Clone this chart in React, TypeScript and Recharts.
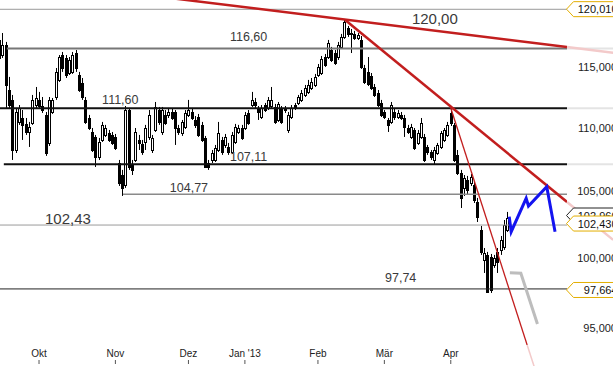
import React from 'react';
import {
  ComposedChart,
  Bar,
  Line,
  XAxis,
  YAxis,
  ReferenceLine,
  ReferenceDot
} from 'recharts';

// daily candles, mid Sep 2012 .. late Apr 2013 (trading day index = position)
const opens = [
  117.33, 116.04, 116.9, 113.1, 112.28, 108.23, 110.48, 110.8, 110.32, 109.67, 110.4, 111.86,
  112.28, 111.78, 111.05, 108.79, 111.29, 112.52, 113.94, 116.04, 115.79, 114.52, 114.61, 116.21,
  114.35, 113.68, 112.28, 110.8, 109.67, 109.27, 107.68, 109.03, 109.43, 109.59, 109.43, 109.27,
  107.2, 106.26, 105.49, 111.45, 107.05, 107.44, 109.03, 108.71, 108.87, 109.27, 108.23, 109.83,
  111.45, 109.67, 111.05, 111.05, 111.29, 111.29, 109.99, 109.59, 110.07, 111.05, 111.29, 110.64,
  110.88, 110.24, 109.19, 107.2, 107.44, 107.44, 108.23, 109.03, 108.63, 108.47, 108.07, 108.87,
  109.67, 109.99, 109.99, 111.21, 111.86, 112.11, 111.62, 110.88, 111.86, 111.62, 111.78, 111.7,
  110.64, 111.62, 111.5, 109.83, 110.88, 111.86, 112.03, 112.28, 112.69, 112.94, 113.27, 113.52,
  114.35, 114.52, 115.87, 115.87, 116.47, 116.21, 115.87, 116.73, 117.59, 118.36, 117.93, 117.85,
  117.5, 117.33, 114.94, 114.61, 114.27, 113.35, 112.85, 112.03, 111.29, 110.64, 110.48, 111.29,
  110.88, 111.05, 110.8, 109.99, 109.27, 109.83, 108.79, 109.27, 109.27, 108.47, 108.07, 107.44,
  107.99, 108.47, 109.03, 109.43, 111.21, 110.24, 107.84, 106.42, 105.25, 105.88, 105.64, 105.49,
  104.18, 102.06, 99.84, 100.21, 100.06, 99.47, 100.43, 100.58, 100.8, 102.06
];
const highs = [
  117.76, 117.93, 117.16, 114.19, 112.69, 111.62, 111.86, 111.45, 110.8, 110.48, 112.69, 113.35,
  112.94, 112.52, 111.29, 112.52, 112.44, 114.94, 116.04, 116.3, 116.04, 115.87, 116.3, 116.47,
  114.61, 114.1, 112.52, 111.05, 109.99, 109.43, 109.19, 110.48, 110.24, 109.83, 109.67, 109.51,
  107.44, 106.66, 111.78, 111.62, 107.44, 109.99, 109.43, 109.03, 110.24, 111.45, 109.43, 112.11,
  111.7, 111.7, 111.45, 111.62, 111.54, 111.45, 110.24, 110.64, 111.45, 112.28, 111.62, 110.96,
  111.13, 110.48, 109.35, 107.44, 108.23, 108.63, 110.48, 109.27, 109.51, 108.79, 109.67, 110.32,
  110.24, 110.24, 111.29, 111.45, 112.94, 112.44, 111.78, 111.86, 112.03, 112.52, 113.35, 111.95,
  112.11, 111.78, 111.78, 111.29, 111.86, 112.03, 112.69, 113.1, 113.52, 113.94, 114.1, 114.44,
  115.28, 115.96, 116.13, 117.33, 116.73, 116.47, 117.16, 117.85, 119.15, 118.54, 118.28, 118.11,
  117.93, 117.67, 115.2, 115.87, 114.52, 113.6, 113.1, 112.28, 111.45, 110.8, 112.11, 111.54,
  111.45, 111.29, 111.05, 110.24, 110.32, 109.99, 109.83, 110.8, 109.51, 108.63, 108.23, 108.47,
  108.79, 109.75, 109.99, 110.48, 111.7, 110.4, 108.23, 106.66, 106.26, 106.19, 106.34, 105.72,
  104.49, 102.36, 100.72, 100.43, 100.28, 100.21, 100.72, 101.61, 102.81, 103.42
];
const lows = [
  115.62, 115.79, 111.62, 111.62, 107.44, 107.99, 110.24, 109.03, 109.43, 108.47, 110.24, 111.62,
  111.62, 111.21, 107.76, 108.55, 111.13, 112.28, 113.77, 114.61, 114.1, 114.35, 114.44, 114.61,
  112.94, 112.28, 110.32, 109.83, 108.07, 106.89, 107.44, 108.87, 109.27, 108.87, 108.63, 108.23,
  105.41, 104.64, 105.26, 106.66, 106.26, 107.28, 108.23, 107.84, 108.23, 109.03, 107.99, 109.67,
  110.24, 109.43, 110.24, 110.8, 110.64, 108.63, 109.43, 109.35, 109.91, 110.88, 110.64, 109.99,
  109.27, 108.87, 106.81, 106.66, 107.2, 107.28, 108.07, 107.84, 108.39, 107.84, 107.91, 108.71,
  109.51, 109.03, 109.83, 110.24, 111.7, 111.62, 110.64, 110.72, 111.29, 111.45, 111.62, 110.32,
  110.48, 110.32, 111.21, 109.59, 110.72, 111.45, 111.86, 112.11, 112.52, 112.77, 113.1, 113.35,
  114.19, 114.35, 115.03, 115.7, 115.45, 115.2, 115.62, 116.56, 117.42, 117.59, 116.21, 117.33,
  117.33, 114.86, 113.6, 113.43, 113.1, 112.52, 111.7, 110.88, 110.72, 109.67, 110.32, 110.64,
  110.72, 110.64, 109.27, 109.51, 109.11, 108.23, 108.63, 109.11, 107.28, 107.84, 107.44, 107.05,
  107.84, 108.31, 108.87, 109.27, 110.15, 107.28, 106.26, 103.72, 104.64, 104.72, 105.41, 104.1,
  102.66, 100.21, 98.89, 97.45, 97.45, 99.26, 98.89, 100.21, 100.58, 101.91
];
const closes = [
  115.79, 116.9, 113.52, 111.86, 108.23, 111.29, 111.62, 110.24, 109.67, 110.07, 112.28, 112.44,
  111.78, 111.45, 107.99, 112.28, 112.28, 114.61, 115.87, 114.94, 114.35, 115.62, 116.04, 114.94,
  113.1, 112.52, 110.48, 109.99, 108.23, 107.68, 108.87, 110.24, 109.99, 109.03, 108.79, 108.39,
  105.64, 105.26, 111.45, 106.89, 106.66, 109.67, 108.79, 108.07, 109.99, 111.05, 109.19, 111.7,
  110.48, 111.45, 110.4, 111.29, 110.8, 109.99, 109.67, 110.48, 111.21, 111.45, 110.8, 110.24,
  109.43, 109.03, 106.89, 106.89, 107.99, 108.39, 109.59, 108.07, 109.27, 108.07, 109.43, 110.07,
  109.99, 109.19, 111.05, 110.4, 112.28, 111.86, 111.29, 111.62, 111.45, 112.28, 112.28, 110.48,
  111.95, 110.48, 111.41, 111.05, 111.62, 111.62, 112.52, 112.85, 113.27, 113.52, 113.77, 114.19,
  115.03, 115.7, 115.2, 117.07, 115.62, 115.37, 116.9, 117.59, 118.89, 117.85, 117.85, 117.5,
  117.76, 115.03, 113.77, 113.6, 113.27, 112.69, 111.86, 111.05, 110.88, 110.24, 111.86, 110.88,
  111.21, 110.8, 110.07, 109.67, 110.07, 108.39, 109.59, 110.4, 107.44, 108.07, 107.68, 108.23,
  108.63, 109.59, 109.83, 110.24, 110.4, 107.44, 106.42, 104.49, 106.03, 105.1, 106.11, 104.33,
  103.04, 100.43, 100.35, 97.52, 97.67, 99.99, 99.69, 101.32, 102.44, 102.96
];

const monthTicks = [12, 35, 57, 74, 96, 116, 136];
const monthLabels = ['Okt', 'Nov', 'Dez', "Jan '13", 'Feb', 'Mär', 'Apr'];
const priceTicks = [95, 100, 105, 110, 115];

// horizontal levels
const levelValues = [120.0, 116.6, 111.6, 107.11, 104.77, 102.43, 97.74];
const levelTexts = ['120,00', '116,60', '111,60', '107,11', '104,77', '102,43', '97,74'];
const levelFrom = [0.25, 2.3, 0.25, 1.4, 37.3, 0.25, 0.25];
const levelTextAt = [124.3, 69.5, 31, 69.5, 51.4, 13.8, 116.2];

// trend lines: [x1, y1, x2, y2] in (day index, price)
const trendA = [50, 121.05, 171, 116.73];
const trendAExt = [171, 116.73, 184.9, 116.24];
const trendB = [104.2, 119.06, 171, 104.18];
const trendBExt = [171, 104.18, 184.9, 101.32];
const trendC = [136, 111.62, 159, 93.8];
const trendCExt = [159, 93.8, 161.4, 92.13];

// drawn forecast paths
const blueX = [153.6, 154.2, 158.7, 159.4, 164.9, 167.4];
const blueY = [103.06, 101.93, 104.46, 103.87, 105.36, 101.93];
const grayX = [153.8, 157.1, 162.1];
const grayY = [98.91, 98.87, 95.26];

// price tags on the right axis
const tagValues = [120.01, 102.96, 102.43, 97.664];
const tagTexts = ['120,010', '102,960', '102,430', '97,664'];
const tagColors = ['#e3ae00', '#222222', '#e3ae00', '#e3ae00'];

const W = 613;
const H = 366;
const FONT = '"Liberation Sans", Arial, sans-serif';

const candles = opens.map((o, i) => ({
  i,
  open: o,
  high: highs[i],
  low: lows[i],
  close: closes[i]
}));
const blueData = blueX.map((x, k) => ({ i: x, v: blueY[k] }));
const grayData = grayX.map((x, k) => ({ i: x, v: grayY[k] }));

const seg = (s: number[]) => [
  { x: s[0], y: s[1] },
  { x: s[2], y: s[3] }
];

const Candle = (props: any) => {
  const { x, y, width, height, payload } = props;
  if (!payload || x == null) return null;
  const top = Math.min(y, y + height);
  const bottom = Math.max(y, y + height);
  const lh = Math.log(payload.high);
  const ll = Math.log(payload.low);
  // log scale -> interpolate in log space between high and low
  const toY = (v: number) => (lh === ll ? top : top + ((bottom - top) * (lh - Math.log(v))) / (lh - ll));
  const yo = toY(payload.open);
  const yc = toY(payload.close);
  const up = payload.close >= payload.open;
  const px = Math.round(x + width / 2);
  const bt = Math.round(Math.min(yo, yc));
  const bh = Math.max(1, Math.round(Math.abs(yc - yo)));
  return (
    <g>
      <line x1={px + 0.5} x2={px + 0.5} y1={top} y2={bottom} stroke="#000" strokeWidth={1} />
      <rect
        x={px - 0.5}
        y={bt + 0.5}
        width={2}
        height={bh}
        fill={up ? '#fff' : '#000'}
        stroke="#000"
        strokeWidth={1}
      />
    </g>
  );
};

const MonthTick = ({ x, y, payload }: any) => {
  const k = monthTicks.indexOf(payload.value);
  return (
    <g>
      <text x={x} y={y + 12} textAnchor="middle" fontSize={10} fill="#222" fontFamily={FONT}>
        {monthLabels[k]}
      </text>
      <line x1={x} x2={x} y1={y + 15} y2={y + 19} stroke="#555" />
    </g>
  );
};

const PriceTick = ({ y, payload }: any) => (
  <text x={W + 4} y={y} dy={4} textAnchor="end" fontSize={11} fill="#222" fontFamily={FONT}>
    {Number(payload.value).toFixed(3).replace('.', ',')}
  </text>
);

const levelStyle = [
  { stroke: '#9a9a9a', width: 1, dy: 14.7, size: 15 },
  { stroke: '#777777', width: 2, dy: -7, size: 12.5 },
  { stroke: '#111111', width: 2, dy: -4, size: 12.5 },
  { stroke: '#111111', width: 2, dy: -3.5, size: 12.5 },
  { stroke: '#8a8a8a', width: 1.5, dy: -2, size: 12.5 },
  { stroke: '#9a9a9a', width: 1, dy: -1.5, size: 15 },
  { stroke: '#222222', width: 1, dy: -7, size: 12.5 }
];

const tagShift = [0, -2.5, -1.5, 0];

export default function App() {
  return (
    <div style={{ width: W, height: H, background: '#fff' }}>
      <style>{'body{margin:0}'}</style>
      <ComposedChart
        width={W}
        height={H}
        data={candles}
        margin={{ top: 0, right: 0, bottom: 0, left: 0 }}
        style={{ fontFamily: FONT }}
      >
        <XAxis
          dataKey="i"
          type="number"
          domain={[0.25, 171]}
          allowDataOverflow
          ticks={monthTicks}
          tick={<MonthTick />}
          tickLine={false}
          axisLine={false}
          tickSize={0}
          tickMargin={0}
          height={21}
          interval={0}
        />
        <YAxis
          orientation="right"
          scale="log"
          domain={[93.8, 120.82]}
          allowDataOverflow
          ticks={priceTicks}
          tick={<PriceTick />}
          tickLine={false}
          axisLine={false}
          width={46}
          interval={0}
        />

        {levelValues.map((v, k) => (
          <ReferenceLine
            key={`lvl-${k}`}
            segment={[
              { x: levelFrom[k], y: v },
              { x: 171, y: v }
            ]}
            stroke={levelStyle[k].stroke}
            strokeWidth={levelStyle[k].width}
            ifOverflow="visible"
          />
        ))}
        {[1, 2, 3].map((k) => (
          <ReferenceLine
            key={`lvlx-${k}`}
            segment={[
              { x: 171, y: levelValues[k] },
              { x: 184.9, y: levelValues[k] }
            ]}
            stroke="#e4e4e4"
            strokeWidth={2}
            ifOverflow="visible"
          />
        ))}

        <Bar
          dataKey={(d: any) => [d.low, d.high]}
          shape={<Candle />}
          barSize={3}
          isAnimationActive={false}
        />

        <ReferenceLine segment={seg(trendAExt)} stroke="#f3caca" strokeWidth={2.5} ifOverflow="visible" />
        <ReferenceLine segment={seg(trendBExt)} stroke="#f3caca" strokeWidth={2.5} ifOverflow="visible" />
        <ReferenceLine segment={seg(trendCExt)} stroke="#f3caca" strokeWidth={1.5} ifOverflow="visible" />
        <ReferenceLine segment={seg(trendA)} stroke="#c21e1e" strokeWidth={2.5} ifOverflow="hidden" />
        <ReferenceLine segment={seg(trendB)} stroke="#c21e1e" strokeWidth={2.5} ifOverflow="hidden" />
        <ReferenceLine segment={seg(trendC)} stroke="#c21e1e" strokeWidth={1.3} ifOverflow="hidden" />

        <Line
          data={grayData}
          dataKey="v"
          type="linear"
          stroke="#bdbdbd"
          strokeWidth={3}
          dot={false}
          activeDot={false}
          legendType="none"
          isAnimationActive={false}
        />
        <Line
          data={blueData}
          dataKey="v"
          type="linear"
          stroke="#1414f0"
          strokeWidth={3}
          dot={false}
          activeDot={false}
          legendType="none"
          isAnimationActive={false}
        />

        {levelValues.map((v, k) => (
          <ReferenceDot
            key={`lbl-${k}`}
            x={levelTextAt[k]}
            y={v}
            r={0}
            ifOverflow="visible"
            shape={(p: any) => (
              <text
                x={p.cx}
                y={p.cy + levelStyle[k].dy}
                fontSize={levelStyle[k].size}
                fill="#3a3a3a"
                fontFamily={FONT}
              >
                {levelTexts[k]}
              </text>
            )}
          />
        ))}

        {tagValues.map((v, k) => (
          <ReferenceDot
            key={`tag-${k}`}
            x={171}
            y={v}
            r={0}
            ifOverflow="visible"
            shape={(p: any) => {
              const x0 = p.cx - 0.5;
              const cy = p.cy + tagShift[k];
              const h = 7.5;
              const d = `M${x0} ${cy} L${x0 + 7} ${cy - h} L${x0 + 70} ${cy - h} L${x0 + 70} ${cy + h} L${x0 + 7} ${cy + h} Z`;
              return (
                <g>
                  <path d={d} fill="#fff" stroke={tagColors[k]} strokeWidth={1} />
                  <text
                    x={W + 4.5}
                    y={cy}
                    dy={4}
                    textAnchor="end"
                    fontSize={11}
                    fill="#111"
                    fontFamily={FONT}
                  >
                    {tagTexts[k]}
                  </text>
                </g>
              );
            }}
          />
        ))}
      </ComposedChart>
    </div>
  );
}
